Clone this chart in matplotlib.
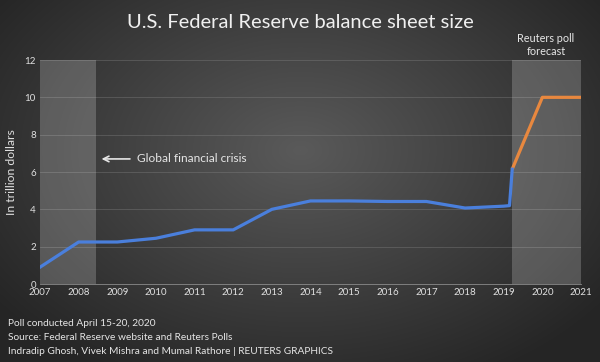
import numpy as np
import matplotlib
matplotlib.use("Agg")
import matplotlib.pyplot as plt

plt.rcParams['font.family'] = ['Lato', 'DejaVu Sans']

# Data
years_hist = [2007, 2008, 2009, 2010, 2011, 2012, 2013, 2014, 2015, 2016, 2017, 2018, 2019, 2019.15, 2019.22]
vals_hist = [0.9, 2.25, 2.25, 2.45, 2.9, 2.9, 4.0, 4.45, 4.45, 4.42, 4.42, 4.07, 4.17, 4.2, 6.15]
years_fc = [2019.22, 2020, 2021]
vals_fc = [6.15, 10.0, 10.0]
crisis_span = (2007, 2008.45)
forecast_span = (2019.22, 2021)
xticks = list(range(2007, 2022))
yticks = [0, 2, 4, 6, 8, 10, 12]

fig = plt.figure(figsize=(6, 3.62), dpi=100)

# background radial gradient
bg = fig.add_axes([0, 0, 1, 1], zorder=0)
h, w = 362, 600
yy, xx = np.mgrid[0:h, 0:w]
r = np.sqrt(((xx - 300) / 380.0) ** 2 + ((yy - 150) / 260.0) ** 2)
r = np.clip(r, 0, 1)
c0 = np.array([0x5a, 0x5a, 0x5a]) / 255
c1 = np.array([0x25, 0x25, 0x25]) / 255
img = c0[None, None, :] * (1 - r[..., None]) + c1[None, None, :] * r[..., None]
bg.imshow(img, aspect='auto', extent=[0, 1, 0, 1], origin='upper')
bg.axis('off')

ax = fig.add_axes([40 / 600, 1 - 284 / 362, 541 / 600, 224 / 362], zorder=1)
ax.patch.set_alpha(0)
ax.set_xlim(2007, 2021)
ax.set_ylim(0, 12)

ax.axvspan(*crisis_span, color='white', alpha=0.2, lw=0, zorder=1)
ax.axvspan(*forecast_span, color='white', alpha=0.2, lw=0, zorder=1)

for yv in yticks[1:]:
    ax.axhline(yv, color='#8a8a8a', lw=0.6, alpha=0.4, zorder=0.5)

ax.plot(years_fc, vals_fc, color='#e8883f', lw=2.3, zorder=3, solid_capstyle='butt')
ax.plot(years_hist, vals_hist, color='#4a7fdc', lw=2.3, zorder=4, solid_joinstyle='round')

ax.set_xticks(xticks)
ax.set_xticklabels([str(x) for x in xticks], color='#e0e0e0', fontsize=7)
ax.set_yticks(yticks)
ax.set_yticklabels([str(y) for y in yticks], color='#e0e0e0', fontsize=7)
ax.tick_params(axis='both', length=0, pad=3)
for s in ['top', 'right', 'left']:
    ax.spines[s].set_visible(False)
ax.spines['bottom'].set_color('#8a8a8a')
ax.spines['bottom'].set_linewidth(0.6)

ax.set_ylabel('In trillion dollars', color='#e0e0e0', fontsize=8.8, labelpad=5)

ax.annotate('', xy=(2008.52, 6.7), xytext=(2009.4, 6.7),
            arrowprops=dict(arrowstyle='->', color='#e6e6e6', lw=1.2), zorder=5)
ax.text(2009.5, 6.7, 'Global financial crisis', color='#e6e6e6', fontsize=8.6,
        va='center', ha='left', zorder=5)

fig.text(0.5, 1 - 22 / 362, 'U.S. Federal Reserve balance sheet size', color='#f0f0f0',
         fontsize=14.5, ha='center', va='center')
fig.text(546 / 600, 1 - 45 / 362, 'Reuters poll\nforecast', color='#e6e6e6', fontsize=7.8,
         ha='center', va='center', linespacing=1.3)

foot = ['Poll conducted April 15-20, 2020',
        'Source: Federal Reserve website and Reuters Polls',
        'Indradip Ghosh, Vivek Mishra and Mumal Rathore | REUTERS GRAPHICS']
for i, t in enumerate(foot):
    fig.text(8 / 600, 1 - (324 + 14 * i) / 362, t, color='#e6e6e6', fontsize=7.3,
             ha='left', va='center')

fig.savefig('out.png', dpi=100)
